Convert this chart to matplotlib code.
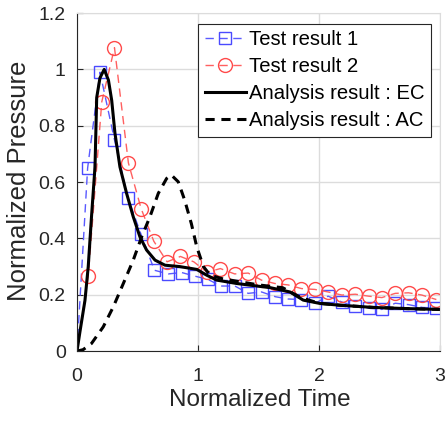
import matplotlib
matplotlib.use("Agg")
import matplotlib.pyplot as plt

plt.rcParams['font.family'] = ['Liberation Sans', 'DejaVu Sans']

# Test result 1 (blue squares)
t1_x = [0.0, 0.088, 0.19, 0.31, 0.42, 0.53, 0.64, 0.755, 0.865, 0.975, 1.08, 1.19, 1.305,
        1.415, 1.525, 1.64, 1.745, 1.855, 1.965, 2.075, 2.19, 2.30, 2.41, 2.52, 2.63,
        2.74, 2.855, 2.97]
t1_y = [0.0, 0.65, 0.99, 0.75, 0.545, 0.414, 0.287, 0.274, 0.279, 0.266, 0.255, 0.231, 0.231,
        0.205, 0.21, 0.193, 0.185, 0.183, 0.169, 0.195, 0.174, 0.16, 0.152, 0.148, 0.17,
        0.165, 0.155, 0.153]

# Test result 2 (red circles)
t2_x = [0.0, 0.093, 0.205, 0.31, 0.425, 0.53, 0.635, 0.745, 0.855, 0.965, 1.075, 1.185, 1.303,
        1.415, 1.525, 1.635, 1.745, 1.855, 1.965, 2.075, 2.19, 2.30, 2.41, 2.52, 2.63,
        2.74, 2.85, 2.97]
t2_y = [0.0, 0.266, 0.885, 1.077, 0.668, 0.506, 0.39, 0.317, 0.336, 0.317, 0.28, 0.293, 0.274,
        0.277, 0.252, 0.24, 0.235, 0.222, 0.219, 0.21, 0.199, 0.202, 0.195, 0.19, 0.205,
        0.207, 0.199, 0.183]

# Analysis result : EC
ec_x = [0.0, 0.025, 0.066, 0.093, 0.12, 0.149, 0.163, 0.19, 0.225, 0.26, 0.287, 0.314, 0.355,
        0.41, 0.465, 0.52, 0.575, 0.645, 0.727, 0.85, 0.99, 1.07, 1.155, 1.32, 1.6, 1.76,
        1.87, 2.01, 2.17, 2.45, 2.72, 3.0]
ec_y = [0.0, 0.07, 0.18, 0.30, 0.477, 0.654, 0.9, 0.97, 1.0, 0.962, 0.89, 0.773, 0.654,
        0.56, 0.477, 0.406, 0.359, 0.323, 0.305, 0.3, 0.29, 0.27, 0.252, 0.24, 0.225, 0.21,
        0.181, 0.169, 0.163, 0.155, 0.151, 0.148]

# Analysis result : AC
ac_x = [0.0, 0.05, 0.12, 0.217, 0.30, 0.383, 0.465, 0.535, 0.603, 0.672, 0.741, 0.78, 0.837,
        0.89, 0.945, 0.99, 1.045, 1.1, 1.2, 1.5, 1.7, 1.85, 2.0, 2.17, 2.45, 2.72, 3.0]
ac_y = [0.0, 0.005, 0.027, 0.086, 0.157, 0.24, 0.323, 0.406, 0.477, 0.56, 0.613, 0.625, 0.601,
        0.536, 0.453, 0.37, 0.3, 0.27, 0.257, 0.235, 0.225, 0.19, 0.17, 0.163, 0.155, 0.151, 0.148]

fig = plt.figure(figsize=(4.46, 4.22), dpi=100)
ax = fig.add_axes([0.1726, 0.168, 0.8139, 0.801])

ax.plot(t1_x, t1_y, linestyle=(0, (6, 4)), color='#5a5aff', lw=1.0, marker='s',
        markersize=8, markerfacecolor='none', markeredgecolor='#4a4aff', markeredgewidth=1.0,
        markevery=list(range(1, len(t1_x))), label='Test result 1')
ax.plot(t2_x, t2_y, linestyle=(0, (6, 4)), color='#ff6060', lw=1.0, marker='o',
        markersize=10, markerfacecolor='none', markeredgecolor='#ff4a4a', markeredgewidth=1.0,
        markevery=list(range(1, len(t2_x))), label='Test result 2')
ax.plot(ec_x, ec_y, color='black', lw=2.2, label='Analysis result : EC')
ax.plot(ac_x, ac_y, color='black', lw=2.2, linestyle=(0, (3, 2.2)), label='Analysis result : AC')

ax.set_xlim(0, 3)
ax.set_ylim(0, 1.2)
ax.set_xticks([0, 1, 2, 3])
ax.set_yticks([0, 0.2, 0.4, 0.6, 0.8, 1.0, 1.2])
ax.set_yticklabels(['0', '0.2', '0.4', '0.6', '0.8', '1', '1.2'])
ax.grid(True, color='#dcdcdc', lw=1.0)
ax.set_axisbelow(True)
ax.tick_params(direction='in', labelsize=14, colors='#262626', length=4, width=0.8)
ax.tick_params(axis='x', pad=12)
ax.tick_params(axis='y', pad=8)
for s in ['left', 'bottom']:
    ax.spines[s].set_color('#262626')
    ax.spines[s].set_linewidth(0.8)
for s in ['top', 'right']:
    ax.spines[s].set_color('#dcdcdc')
ax.set_xlabel('Normalized Time', fontsize=17.5, color='#262626')
ax.set_ylabel('Normalized Pressure', fontsize=18.5, color='#262626')
ax.xaxis.set_label_coords(0.504, -0.112)
ax.yaxis.set_label_coords(-0.128, 0.503)

leg = ax.legend(loc='upper right', bbox_to_anchor=(0.974, 0.969), fontsize=14.6,
                frameon=True, fancybox=False, edgecolor='#262626', framealpha=1,
                handlelength=2.05, handletextpad=0.12, borderpad=0.32, labelspacing=0.4,
                borderaxespad=0)
leg.get_frame().set_linewidth(0.8)

fig.savefig('out.png', dpi=100)
